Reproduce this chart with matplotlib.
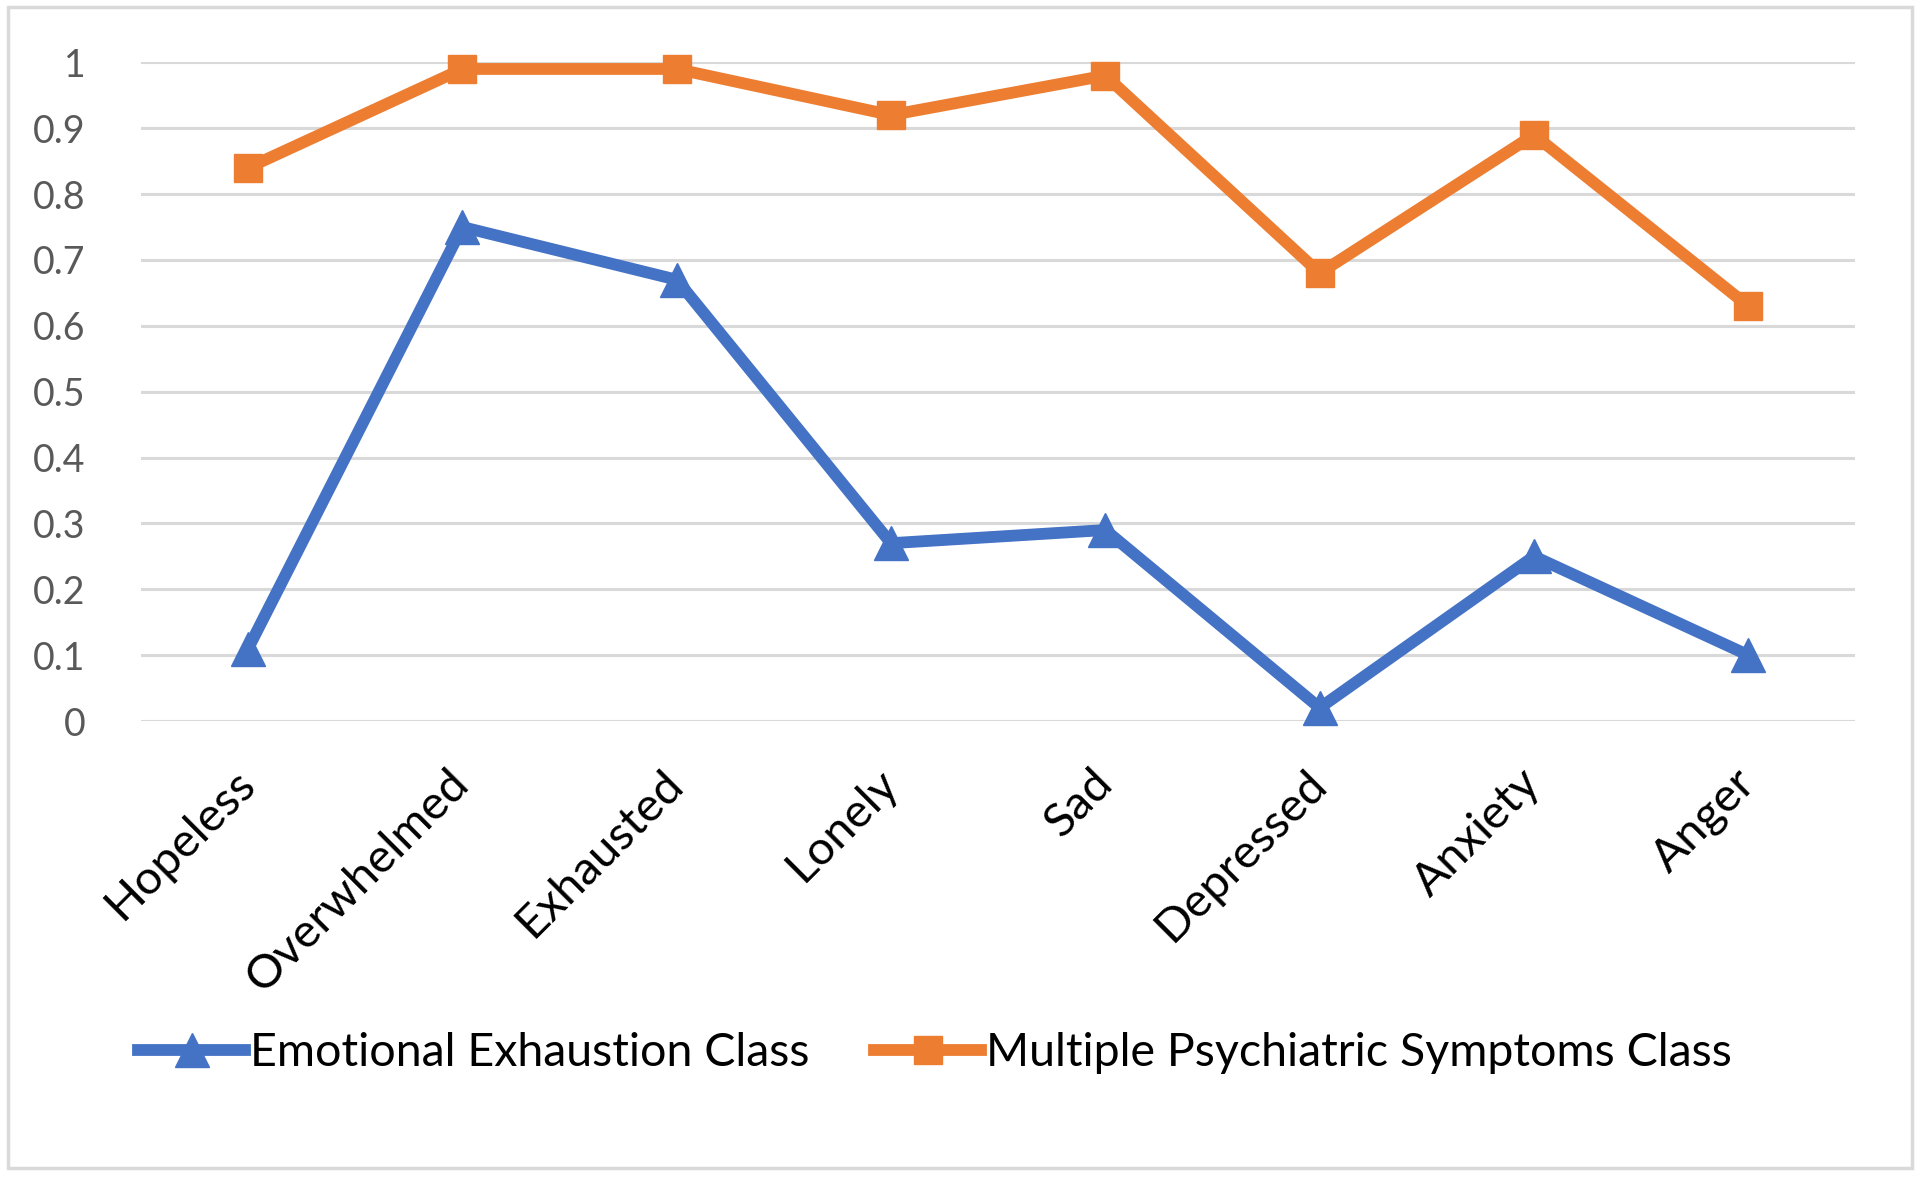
import numpy as np
import matplotlib.pyplot as plt

categories = ["Hopeless", "Overwhelmed", "Exhausted", "Lonely", "Sad",
              "Depressed", "Anxiety", "Anger"]
emotional = [0.11, 0.75, 0.67, 0.27, 0.29, 0.02, 0.25, 0.10]
psychiatric = [0.84, 0.99, 0.99, 0.92, 0.98, 0.68, 0.89, 0.63]
yticks = [0, 0.1, 0.2, 0.3, 0.4, 0.5, 0.6, 0.7, 0.8, 0.9, 1]
ytick_labels = ["0", "0.1", "0.2", "0.3", "0.4", "0.5", "0.6", "0.7", "0.8", "0.9", "1"]

plt.rcParams['font.family'] = ['Lato', 'DejaVu Sans']

fig = plt.figure(figsize=(19.2, 11.77), dpi=100)
ax = fig.add_axes([0.0734, 0.3874, 0.893, 0.5596])

x = np.arange(len(categories))
ax.plot(x, emotional, color="#4472C4", lw=8.5, marker="^", ms=24,
        label="Emotional Exhaustion Class", clip_on=False, zorder=3)
ax.plot(x, psychiatric, color="#ED7D31", lw=8.5, marker="s", ms=20,
        label="Multiple Psychiatric Symptoms Class", clip_on=False, zorder=3)

ax.set_xlim(-0.5, len(categories) - 0.5)
ax.set_ylim(0, 1)
ax.set_yticks(yticks)
ax.set_yticklabels(ytick_labels, color="#595959", fontsize=27)
ax.set_xticks(x)
ax.set_xticklabels(categories, rotation=45, ha="right", va="center",
                   rotation_mode="anchor", fontsize=34, color="black")
ax.tick_params(axis="both", length=0)
ax.tick_params(axis="y", pad=40)
ax.tick_params(axis="x", pad=40)
ax.grid(axis="y", color="#D9D9D9", lw=2.2)
ax.set_axisbelow(True)
for s in ax.spines.values():
    s.set_visible(False)

leg = fig.legend(loc="center", bbox_to_anchor=(0.487, 0.105), ncol=2, frameon=False,
                 fontsize=33.5, handlelength=2.3, handletextpad=0.1, columnspacing=1.4)

# outer chart border
fig.patches.append(plt.Rectangle((0.004, 0.008), 0.992, 0.986, transform=fig.transFigure,
                                 fill=False, edgecolor="#D9D9D9", lw=2.5))

fig.savefig("out.png", dpi=100)
